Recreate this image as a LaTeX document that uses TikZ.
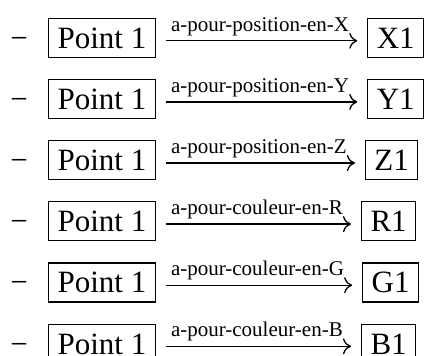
\documentclass[tikz,border=0pt]{standalone}
\usepackage{fontspec}
\setmainfont{Liberation Serif}
\usetikzlibrary{positioning,arrows.meta,calc}

\begin{document}
\begin{tikzpicture}[x=1pt,y=1pt,
box/.style={draw,line width=1.1pt,inner sep=9pt,text height=21pt,text depth=0pt,font=\fontsize{31}{36}\selectfont},
lbl/.style={inner sep=0pt,font=\fontsize{21}{25}\selectfont},
itemdash/.style={inner sep=0pt,font=\fontsize{31}{36}\selectfont},
arr/.style={line width=1.3pt,-{To[length=8pt,width=16pt]}}
]
\useasboundingbox (0,0) rectangle (427,-355);
% rows
\node[box,anchor=north west] (p1) at (48,-18) {Point 1};
\node[box,below=21pt of p1] (p2) {Point 1};
\node[box,below=21pt of p2] (p3) {Point 1};
\node[box,below=21pt of p3] (p4) {Point 1};
\node[box,below=21pt of p4] (p5) {Point 1};
\node[box,below=21pt of p5] (p6) {Point 1};
% item dashes
\node[itemdash,anchor=base east] (d1) at ($(p1.base west)+(-20,0)$) {−};
\node[itemdash,anchor=base east] (d2) at ($(p2.base west)+(-20,0)$) {−};
\node[itemdash,anchor=base east] (d3) at ($(p3.base west)+(-20,0)$) {−};
\node[itemdash,anchor=base east] (d4) at ($(p4.base west)+(-20,0)$) {−};
\node[itemdash,anchor=base east] (d5) at ($(p5.base west)+(-20,0)$) {−};
\node[itemdash,anchor=base east] (d6) at ($(p6.base west)+(-20,0)$) {−};
% arrow starts
\coordinate (a1) at ($(p1.base east)+(10,7.75)$);
\coordinate (a2) at ($(p2.base east)+(10,7.75)$);
\coordinate (a3) at ($(p3.base east)+(10,7.75)$);
\coordinate (a4) at ($(p4.base east)+(10,7.75)$);
\coordinate (a5) at ($(p5.base east)+(10,7.75)$);
\coordinate (a6) at ($(p6.base east)+(10,7.75)$);
% labels
\node[lbl,anchor=base west] (l1) at ($(a1)+(5,9.5)$) {a-pour-position-en-X};
\node[lbl,anchor=base west] (l2) at ($(a2)+(5,9.5)$) {a-pour-position-en-Y};
\node[lbl,anchor=base west] (l3) at ($(a3)+(5,9.5)$) {a-pour-position-en-Z};
\node[lbl,anchor=base west] (l4) at ($(a4)+(5,9.5)$) {a-pour-couleur-en-R};
\node[lbl,anchor=base west] (l5) at ($(a5)+(5,9.5)$) {a-pour-couleur-en-G};
\node[lbl,anchor=base west] (l6) at ($(a6)+(5,9.5)$) {a-pour-couleur-en-B};
% arrow ends
\coordinate (b1) at ($(a1 -| l1.east)+(8,0)$);
\coordinate (b2) at ($(a2 -| l2.east)+(8,0)$);
\coordinate (b3) at ($(a3 -| l3.east)+(8,0)$);
\coordinate (b4) at ($(a4 -| l4.east)+(8,0)$);
\coordinate (b5) at ($(a5 -| l5.east)+(8,0)$);
\coordinate (b6) at ($(a6 -| l6.east)+(8,0)$);
\draw[arr] (a1) -- (b1);
\draw[arr] (a2) -- (b2);
\draw[arr] (a3) -- (b3);
\draw[arr] (a4) -- (b4);
\draw[arr] (a5) -- (b5);
\draw[arr] (a6) -- (b6);
% targets
\node[box,anchor=base west] (x1) at ($(b1)+(10,-7.75)$) {X1};
\node[box,anchor=base west] (y1) at ($(b2)+(10,-7.75)$) {Y1};
\node[box,anchor=base west] (z1) at ($(b3)+(10,-7.75)$) {Z1};
\node[box,anchor=base west] (r1) at ($(b4)+(10,-7.75)$) {R1};
\node[box,anchor=base west] (g1) at ($(b5)+(10,-7.75)$) {G1};
\node[box,anchor=base west] (bl1) at ($(b6)+(10,-7.75)$) {B1};
\end{tikzpicture}
\end{document}
